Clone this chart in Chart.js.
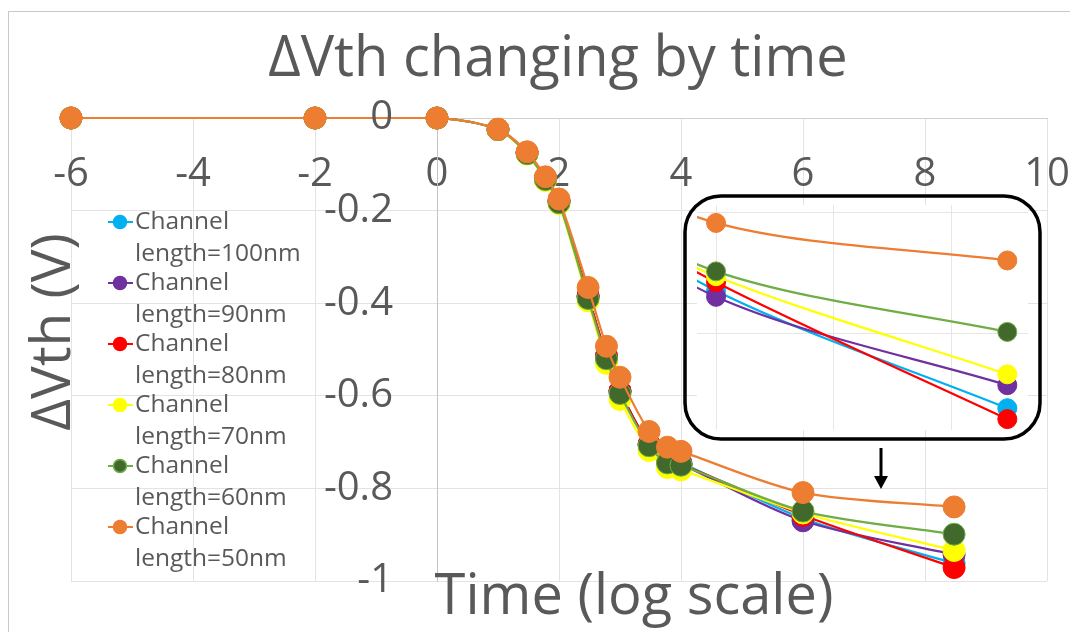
<!DOCTYPE html>
<html>
<head>
<meta charset="utf-8">
<script src="https://cdn.jsdelivr.net/npm/chart.js@4"></script>
<style>
  html, body { margin: 0; padding: 0; background: #fff; }
  #wrap { position: relative; width: 1070px; height: 632px; overflow: hidden; }
  #frame { position: absolute; left: 8px; top: 11px; width: 1100px; height: 700px; border: 1px solid #c9c9c9; }
  #main { position: absolute; left: 0; top: 0; }
  #inset { position: absolute; left: 683px; top: 194px; }
</style>
</head>
<body>
<div id="wrap">
  <div id="frame"></div>
  <canvas id="main" width="1070" height="632"></canvas>
  <canvas id="inset" width="360" height="247"></canvas>
</div>
<script>
// log10 of stress time
const logTime = [-6, -2, 0, 1, 1.477, 1.778, 2, 2.477, 2.778, 3, 3.477, 3.778, 4, 6, 8.477];

// Vth shift (V) per channel length
const dVth100 = [0, 0, 0, -0.025, -0.075, -0.13, -0.18, -0.385, -0.515, -0.59, -0.705, -0.74, -0.745, -0.865, -0.962];
const dVth90  = [0, 0, 0, -0.025, -0.075, -0.13, -0.18, -0.385, -0.515, -0.59, -0.705, -0.74, -0.748, -0.870, -0.943];
const dVth80  = [0, 0, 0, -0.025, -0.075, -0.13, -0.18, -0.385, -0.515, -0.59, -0.705, -0.742, -0.748, -0.858, -0.971];
const dVth70  = [0, 0, 0, -0.025, -0.078, -0.135, -0.185, -0.395, -0.53, -0.608, -0.718, -0.755, -0.76, -0.853, -0.934];
const dVth60  = [0, 0, 0, -0.025, -0.077, -0.133, -0.183, -0.39, -0.52, -0.595, -0.708, -0.745, -0.75, -0.849, -0.899];
const dVth50  = [0, 0, 0, -0.024, -0.073, -0.127, -0.175, -0.366, -0.493, -0.56, -0.677, -0.711, -0.72, -0.809, -0.840];

const seriesLabels = ['Channel length=100nm', 'Channel length=90nm', 'Channel length=80nm',
                      'Channel length=70nm', 'Channel length=60nm', 'Channel length=50nm'];
const seriesValues = [dVth100, dVth90, dVth80, dVth70, dVth60, dVth50];
const lineColors   = ['#00B0F0', '#7030A0', '#FF0000', '#FFFF00', '#70AD47', '#ED7D31'];
const markerColors = ['#00B0F0', '#7030A0', '#FF0000', '#FFFF00', '#41692B', '#ED7D31'];
const markerBorders = ['#00B0F0', '#7030A0', '#FF0000', '#FFFF00', '#70AD47', '#ED7D31'];

const xTicks = [-6, -4, -2, 0, 2, 4, 6, 8, 10];
const yTicks = [0, -0.2, -0.4, -0.6, -0.8, -1];

const FONT = '"Open Sans", Lato, sans-serif';
const GREY = '#595959';

function makeDatasets(radius) {
    return seriesValues.map((vals, i) => ({
        label: seriesLabels[i],
        data: vals.map((v, j) => ({ x: logTime[j], y: v })),
        borderColor: lineColors[i],
        backgroundColor: markerColors[i],
        pointBackgroundColor: markerColors[i],
        pointBorderColor: markerBorders[i],
        pointBorderWidth: 1,
        pointRadius: radius,
        borderWidth: 2.2,
        tension: 0.3,
        order: seriesValues.length - i, // 50nm drawn on top
        clip: false
    }));
}

// no extra room for edge labels: the plot box is fixed by layout padding
function noEdgePadding(s) {
    s.paddingLeft = 0; s.paddingRight = 0; s.paddingTop = 0; s.paddingBottom = 0;
}

// titles, y tick labels, legend and arrow for the main chart
const decorations = {
    id: 'decorations',
    afterDraw(chart) {
        const ctx = chart.ctx;
        ctx.save();
        ctx.fillStyle = GREY;
        ctx.textAlign = 'center';
        ctx.textBaseline = 'middle';
        ctx.font = '56px ' + FONT;
        ctx.fillText('ΔVth changing by time', 558, 60);
        ctx.font = '56px ' + FONT;
        ctx.fillText('Time (log scale)', 634, 598);
        ctx.save();
        ctx.translate(54, 332);
        ctx.rotate(-Math.PI / 2);
        ctx.font = '55px ' + FONT;
        ctx.fillText('ΔVth (V)', 0, 0);
        ctx.restore();

        // y tick labels sit left of the x=0 axis line
        const xs = chart.scales.x, ys = chart.scales.y;
        const axisX = xs.getPixelForValue(0);
        ctx.textAlign = 'right';
        ctx.font = '40px ' + FONT;
        ys.ticks.forEach(t => {
            ctx.fillText(String(t.value), axisX - 44, ys.getPixelForValue(t.value));
        });

        // legend
        ctx.textAlign = 'left';
        ctx.font = '24.5px ' + FONT;
        chart.data.datasets.forEach((ds, i) => {
            const y = 222 + i * 61;
            ctx.strokeStyle = ds.borderColor;
            ctx.lineWidth = 2;
            ctx.beginPath();
            ctx.moveTo(108, y);
            ctx.lineTo(133, y);
            ctx.stroke();
            ctx.beginPath();
            ctx.arc(120, y, 6.5, 0, Math.PI * 2);
            ctx.fillStyle = ds.pointBackgroundColor;
            ctx.fill();
            ctx.strokeStyle = ds.pointBorderColor;
            ctx.lineWidth = 1.5;
            ctx.stroke();
            const parts = ds.label.split(' ');
            ctx.fillStyle = GREY;
            ctx.fillText(parts[0], 135, y);
            ctx.fillText(parts[1], 135, y + 32);
        });

        // arrow pointing from the inset to the tail of the curves
        ctx.strokeStyle = '#000';
        ctx.fillStyle = '#000';
        ctx.lineWidth = 3;
        ctx.beginPath();
        ctx.moveTo(881, 448);
        ctx.lineTo(881, 478);
        ctx.stroke();
        ctx.beginPath();
        ctx.moveTo(874, 476);
        ctx.lineTo(888, 476);
        ctx.lineTo(881, 489);
        ctx.closePath();
        ctx.fill();
        ctx.restore();
    }
};

new Chart(document.getElementById('main'), {
    type: 'line',
    data: { datasets: makeDatasets(11) },
    options: {
        responsive: false,
        animation: false,
        layout: { padding: { left: 71, top: 118, right: 23, bottom: 51 } },
        plugins: { legend: { display: false }, tooltip: { enabled: false } },
        scales: {
            x: {
                type: 'linear',
                min: -6, max: 10,
                position: { y: 0 },
                afterBuildTicks: (s) => { s.ticks = xTicks.map(v => ({ value: v })); },
                afterFit: noEdgePadding,
                grid: { color: '#e3e3e3', drawTicks: false },
                border: { color: '#d0d0d0' },
                ticks: { color: GREY, font: { family: FONT, size: 40 }, padding: 33, maxRotation: 0,
                         callback: v => String(v) }
            },
            y: {
                type: 'linear',
                min: -1, max: 0,
                position: { x: 0 },
                afterBuildTicks: (s) => { s.ticks = yTicks.map(v => ({ value: v })); },
                afterFit: noEdgePadding,
                grid: { color: '#e3e3e3', drawTicks: false },
                border: { color: '#c4c4c4' },
                ticks: { display: false }
            }
        }
    },
    plugins: [decorations]
});

// rounded frame and white backing for the zoomed inset
const insetFrame = {
    id: 'insetFrame',
    beforeDraw(chart) {
        const a = chart.chartArea, ctx = chart.ctx;
        ctx.save();
        ctx.fillStyle = '#fff';
        ctx.fillRect(a.left, a.top, a.right - a.left, a.bottom - a.top);
        ctx.restore();
    },
    afterDraw(chart) {
        const ctx = chart.ctx;
        ctx.save();
        ctx.strokeStyle = '#000';
        ctx.lineWidth = 3.5;
        ctx.beginPath();
        ctx.roundRect(2, 2, 355, 243, 36);
        ctx.stroke();
        ctx.restore();
    }
};

const insetSets = makeDatasets(9.5).map(ds => Object.assign(ds, { clip: 0 }));

new Chart(document.getElementById('inset'), {
    type: 'line',
    data: { datasets: insetSets },
    options: {
        responsive: false,
        animation: false,
        layout: { padding: { left: 14, top: 11, right: 15, bottom: 11 } },
        plugins: { legend: { display: false }, tooltip: { enabled: false } },
        scales: {
            x: {
                type: 'linear', min: 5.838, max: 8.653,
                afterBuildTicks: (s) => { s.ticks = [6, 7, 8].map(v => ({ value: v })); },
                afterFit: noEdgePadding,
                grid: { color: '#e6e6e6', drawTicks: false },
                border: { display: false },
                ticks: { display: false }
            },
            y: {
                type: 'linear', min: -0.98, max: -0.7942,
                afterBuildTicks: (s) => { s.ticks = [-0.8, -0.9].map(v => ({ value: v })); },
                afterFit: noEdgePadding,
                grid: { color: '#e6e6e6', drawTicks: false },
                border: { display: false },
                ticks: { display: false }
            }
        }
    },
    plugins: [insetFrame]
});
</script>
</body>
</html>
